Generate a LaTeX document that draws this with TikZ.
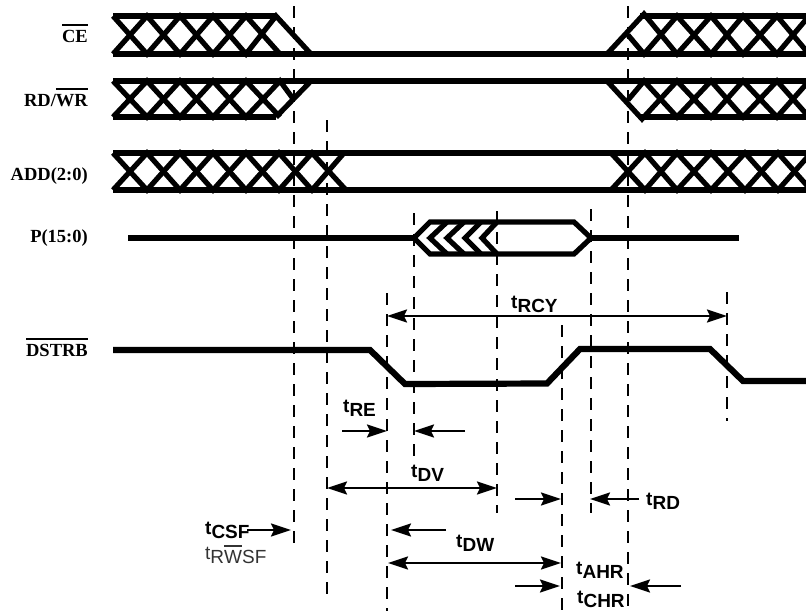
\documentclass[tikz,border=0pt]{standalone}
\usepackage{fontspec}
\setmainfont{Liberation Serif}
\newfontfamily\helv{Liberation Sans}
\usetikzlibrary{arrows.meta}
% barra sobre el texto
\newcommand{\barra}[1]{\setbox0\hbox{#1}\rlap{\raisebox{16.5pt}{\rule{\wd0}{1.8pt}}}\box0}
\newcommand{\tiempo}[1]{t\raisebox{-4pt}{#1}}

\begin{document}
\begin{tikzpicture}[x=1pt,y=-1pt,
    senal/.style={line width=6.2pt},
    cruce/.style={line width=5.2pt},
    guia/.style={line width=2.4pt,dash pattern=on 12pt off 9pt},
    cota/.style={line width=2.2pt,{Stealth[length=20pt,width=13pt,inset=3pt]}-{Stealth[length=20pt,width=13pt,inset=3pt]}},
    flecha/.style={line width=2.2pt,-{Stealth[length=20pt,width=13pt,inset=3pt]}},
    nombre/.style={anchor=base east,inner sep=0pt,font=\fontsize{18.5}{20}\selectfont\bfseries},
    tbold/.style={anchor=base west,inner sep=0pt,font=\fontsize{19}{20}\selectfont\helv\bfseries},
    tfino/.style={anchor=base west,inner sep=0pt,font=\fontsize{19}{20}\selectfont\helv,text=black!80}]
    \useasboundingbox (0,0) rectangle (806,611);

    % CE
    \draw [senal] (113,16) -- (276,16);
    \draw [senal] (113,54) -- (806,54);
    \draw [senal] (640,16) -- (806,16);
    \draw [cruce] (113,16) -- (147,54) -- (180,16) -- (213,54) -- (246,16) -- (280,54);
    \draw [cruce] (113,54) -- (147,16) -- (180,54) -- (213,16) -- (246,54) -- (276,16) -- (311,54);
    \draw [cruce] (607,54) -- (644,14) -- (677,54) -- (711,16) -- (743,54) -- (777,16) -- (809,54);
    \draw [cruce] (628,35) -- (644,54) -- (677,16) -- (711,54) -- (743,16) -- (777,54) -- (809,16);

    % RD/WR
    \draw [senal] (113,81) -- (806,81);
    \draw [senal] (113,117) -- (276,117);
    \draw [senal] (640,117) -- (806,117);
    \draw [cruce] (113,81) -- (147,117) -- (180,81) -- (213,117) -- (246,81) -- (280,117);
    \draw [cruce] (113,117) -- (147,81) -- (180,117) -- (213,81) -- (246,117) -- (280,81) -- (294,100);
    \draw [cruce] (276,117) -- (311,81);
    \draw [cruce] (607,81) -- (642,119) -- (677,81) -- (711,117) -- (743,81) -- (777,117) -- (809,81);
    \draw [cruce] (628,100) -- (644,81) -- (677,117) -- (711,81) -- (743,117) -- (777,81) -- (809,117);

    % ADD(2:0)
    \draw [senal] (113,153) -- (806,153);
    \draw [senal] (113,190) -- (806,190);
    \draw [cruce] (113,153) -- (147,190) -- (180,153) -- (213,190) -- (246,153) -- (279,190) -- (312,153) -- (346,190);
    \draw [cruce] (113,190) -- (147,153) -- (180,190) -- (213,153) -- (246,190) -- (279,153) -- (312,190) -- (344,153);
    \draw [cruce] (611,190) -- (645,153) -- (677,190) -- (711,153) -- (745,190) -- (778,153) -- (811,190);
    \draw [cruce] (611,153) -- (645,190) -- (677,153) -- (711,190) -- (745,153) -- (778,190) -- (811,153);

    % P(15:0)
    \draw [senal] (128,238) -- (414,238);
    \draw [senal] (591,238) -- (739,238);
    \draw [cruce] (414,238) -- (430,222) -- (574,222) -- (591,238) -- (574,254) -- (430,254) -- cycle;
    \draw [cruce] (447,222) -- (430,238) -- (447,254);
    \draw [cruce] (464,222) -- (447,238) -- (464,254);
    \draw [cruce] (481,222) -- (465,238) -- (481,254);
    \draw [cruce] (497,222) -- (482,238) -- (497,254);

    % DSTRB
    \draw [senal] (113,350) -- (370,350) -- (405,384) -- (547,383.5) -- (580,349) -- (710,349) -- (743,381) -- (806,381);

    % Lineas de referencia
    \draw [guia] (294,6) -- (294,551);
    \draw [guia] (327,120) -- (327,597);
    \draw [guia] (387,293) -- (387,611);
    \draw [guia] (414,213) -- (414,458);
    \draw [guia] (497,211) -- (497,513);
    \draw [guia] (562,325) -- (562,611);
    \draw [guia] (591,209) -- (591,513);
    \draw [guia] (628,6) -- (628,611);
    \draw [guia] (727,292) -- (727,421);

    % Flechas
    \draw [cota] (387,316) -- (727,316);
    \draw [flecha] (342,431) -- (387,431);
    \draw [flecha] (465,431) -- (414,431);
    \draw [cota] (327,488) -- (497,488);
    \draw [flecha] (515,499) -- (561,499);
    \draw [flecha] (639,499) -- (590,499);
    \draw [flecha] (247,530) -- (291,530);
    \draw [flecha] (446,530) -- (391,530);
    \draw [cota] (388,563) -- (561,563);
    \draw [flecha] (515,586) -- (560,586);
    \draw [flecha] (681,586) -- (630,586);

    % Nombres de las senales
    \node [nombre] (ce) at (88,42) {\barra{CE}};
    \node [nombre] (rdwr) at (88,106) {RD/\barra{WR}};
    \node [nombre] (add) at (88,180) {ADD(2:0)};
    \node [nombre] (pbus) at (88,242) {P(15:0)};
    \node [nombre] (dstrb) at (88,356) {\barra{DSTRB}};

    % Tiempos
    \node [tbold] (trcy) at (511,308) {\tiempo{RCY}};
    \node [tbold] (tre) at (343,412) {\tiempo{RE}};
    \node [tbold] (tdv) at (411,477) {\tiempo{DV}};
    \node [tbold] (trd) at (646,505) {\tiempo{RD}};
    \node [tbold] (tcsf) at (205,534) {\tiempo{CSF}};
    \node [tfino] (trwsf) at (205,559) {\tiempo{R\barra{W}SF}};
    \node [tbold] (tdw) at (456,547) {\tiempo{DW}};
    \node [tbold] (tahr) at (576,574) {\tiempo{AHR}};
    \node [tbold] (tchr) at (577,603) {\tiempo{CHR}};
\end{tikzpicture}
\end{document}
